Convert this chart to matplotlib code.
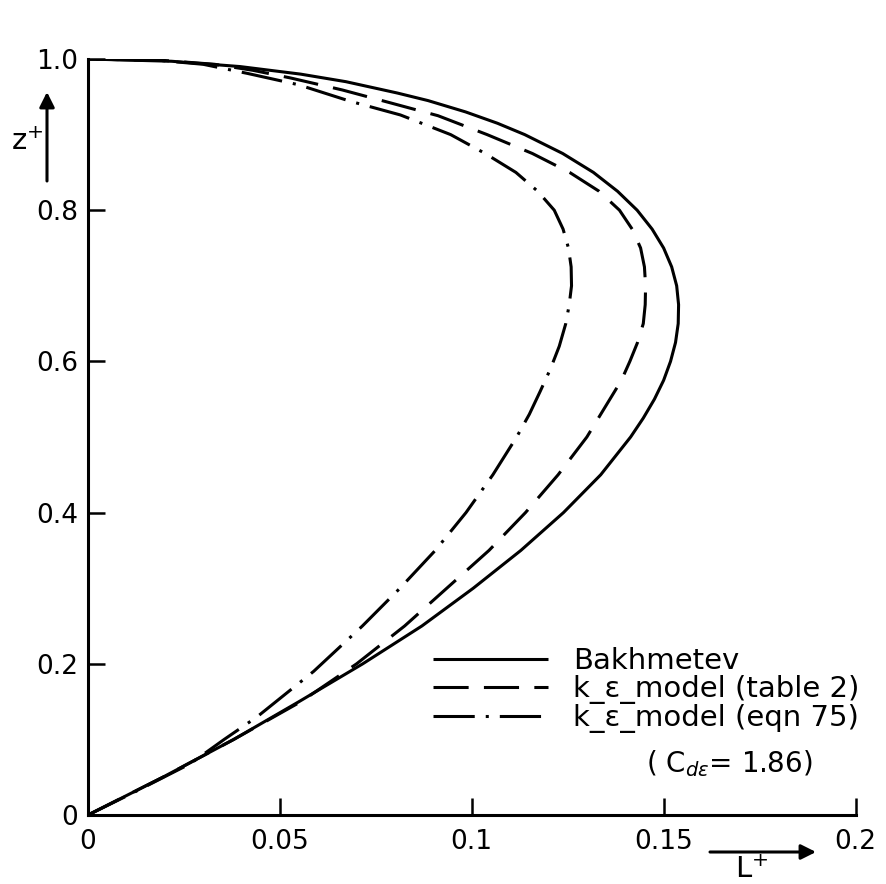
import matplotlib
matplotlib.use("Agg")
import matplotlib.pyplot as plt

# Mixing-length profiles L+ over relative depth z+
z_bakh = [0.0, 0.05, 0.10, 0.15, 0.20, 0.25, 0.30, 0.35, 0.40, 0.45, 0.50, 0.525,
          0.55, 0.575, 0.60, 0.625, 0.65, 0.675, 0.70, 0.725, 0.75, 0.775, 0.80,
          0.825, 0.85, 0.875, 0.90, 0.915, 0.93, 0.945, 0.955, 0.97, 0.98, 0.99,
          0.997, 1.0]
L_bakh = [0.0, 0.0195, 0.038, 0.055, 0.0716, 0.087, 0.1004, 0.1128, 0.1239, 0.1336,
          0.1414, 0.1447, 0.1476, 0.1500, 0.1518, 0.1531, 0.1538, 0.1539, 0.1534,
          0.1521, 0.1500, 0.1470, 0.1431, 0.1380, 0.1317, 0.1237, 0.1138, 0.1067,
          0.0984, 0.0886, 0.0806, 0.0672, 0.0554, 0.0396, 0.0218, 0.0]

z_ke_tab = [0.0, 0.05, 0.10, 0.15, 0.20, 0.25, 0.30, 0.35, 0.40, 0.45, 0.50, 0.525,
            0.55, 0.575, 0.60, 0.625, 0.65, 0.675, 0.70, 0.725, 0.75, 0.775, 0.80,
            0.825, 0.85, 0.875, 0.90, 0.925, 0.942, 0.959, 0.975, 0.985, 0.993,
            0.998, 1.0]
L_ke_tab = [0.0, 0.0195, 0.038, 0.0555, 0.0700, 0.0825, 0.0935, 0.1045, 0.1140,
            0.1225, 0.1300, 0.1330, 0.1360, 0.1390, 0.1412, 0.1432, 0.1447, 0.1452,
            0.1453, 0.1450, 0.1440, 0.1418, 0.1385, 0.1332, 0.1255, 0.1158, 0.1040,
            0.0912, 0.0788, 0.0663, 0.0527, 0.0430, 0.0330, 0.0200, 0.0]

z_ke_eq = [0.0, 0.03, 0.068, 0.10, 0.13, 0.19, 0.25, 0.30, 0.35, 0.40, 0.45, 0.50,
           0.53, 0.56, 0.59, 0.62, 0.65, 0.675, 0.70, 0.725, 0.75, 0.775, 0.80,
           0.825, 0.85, 0.875, 0.90, 0.926, 0.944, 0.966, 0.981, 0.993, 0.998, 1.0]
L_ke_eq = [0.0, 0.012, 0.0267, 0.0355, 0.0441, 0.0588, 0.0715, 0.0813, 0.0905,
           0.0985, 0.1055, 0.1117, 0.1150, 0.1178, 0.1205, 0.1228, 0.1245, 0.1254,
           0.1260, 0.1259, 0.1252, 0.1238, 0.1215, 0.1172, 0.1115, 0.1035, 0.0945,
           0.0814, 0.0684, 0.0548, 0.0415, 0.0300, 0.0190, 0.0]

labels = ["Bakhmetev", "k_\u03b5_model (table 2)", "k_\u03b5_model (eqn 75)"]
note = r"( C$_{d\varepsilon}$= 1.86)"

x_ticks = [0, 0.05, 0.1, 0.15, 0.2]
x_ticklabels = ["0", "0.05", "0.1", "0.15", "0.2"]
y_ticks = [0, 0.2, 0.4, 0.6, 0.8, 1.0]
y_ticklabels = ["0", "0.2", "0.4", "0.6", "0.8", "1.0"]

plt.rcParams["font.family"] = ["DejaVu Sans"]

W, H = 886, 884
fig = plt.figure(figsize=(W / 100, H / 100), dpi=100)
ax = fig.add_axes([88 / W, 1 - 815 / H, (855.5 - 88) / W, (815 - 59) / H])

lw = 2.2
ax.plot(L_bakh, z_bakh, color="black", lw=lw, solid_capstyle="butt",
        solid_joinstyle="round", label=labels[0])
ax.plot(L_ke_tab, z_ke_tab, color="black", lw=lw, linestyle=(0, (11.5, 5.0)),
        label=labels[1])
ax.plot(L_ke_eq, z_ke_eq, color="black", lw=lw, linestyle=(0, (13.5, 3.6, 1.0, 3.6)),
        label=labels[2])

ax.set_xlim(0, 0.2)
ax.set_ylim(0, 1.0)
ax.set_xticks(x_ticks)
ax.set_xticklabels(x_ticklabels)
ax.set_yticks(y_ticks)
ax.set_yticklabels(y_ticklabels)

for side in ("top", "right"):
    ax.spines[side].set_visible(False)
for side in ("left", "bottom"):
    ax.spines[side].set_linewidth(2.2)
ax.tick_params(direction="in", length=12, width=1.8, labelsize=19, colors="black")
ax.tick_params(axis="x", pad=10)
ax.tick_params(axis="y", pad=7)

leg = ax.legend(loc="upper left", bbox_to_anchor=(0.4495, 0.222), frameon=False,
                fontsize=21, handlelength=3.95, handletextpad=0.86,
                labelspacing=0.0, borderpad=0, borderaxespad=0)
ax.text(0.835, 0.0675, note, transform=ax.transAxes, fontsize=20,
        ha="center", va="center")

# axis direction arrows with variable names
arrow_kw = dict(arrowstyle="-|>,head_length=0.9,head_width=0.45", lw=2.2,
                color="black", shrinkA=0, shrinkB=0)
ax.annotate("", xy=(47 / W, 1 - 92 / H), xytext=(47 / W, 1 - 181 / H),
            xycoords="figure fraction", textcoords="figure fraction",
            arrowprops=arrow_kw, annotation_clip=False)
fig.text(27 / W, 1 - 142 / H, r"z$^{+}$", fontsize=21, ha="center", va="center")

ax.annotate("", xy=(816 / W, 1 - 852 / H), xytext=(710 / W, 1 - 852 / H),
            xycoords="figure fraction", textcoords="figure fraction",
            arrowprops=arrow_kw, annotation_clip=False)
fig.text(752 / W, 1 - 870 / H, r"L$^{+}$", fontsize=21, ha="center", va="center")

fig.savefig("out.png", dpi=100)
